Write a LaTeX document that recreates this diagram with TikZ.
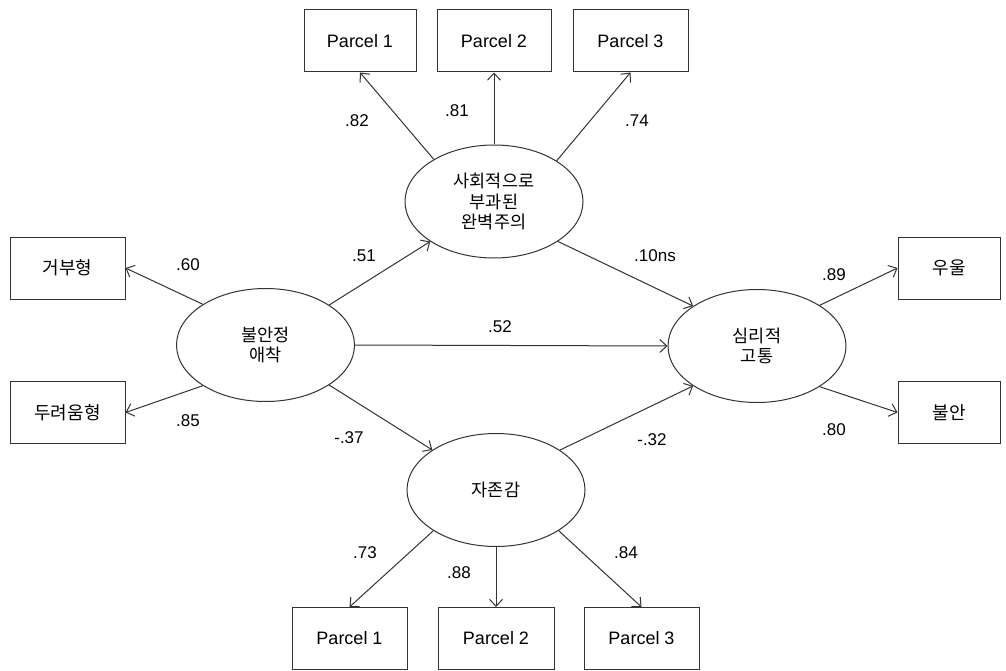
\documentclass[tikz,border=0pt]{standalone}
\usepackage{fontspec}
\setmainfont{Liberation Sans}
\newfontfamily\kr{Noto Sans CJK KR}
\usetikzlibrary{shapes.geometric,arrows.meta}
\begin{document}
\begin{tikzpicture}[x=1pt,y=-1pt,
  box/.style={draw=black!80, line width=1pt, rectangle, inner sep=0pt, minimum height=62pt, font=\fontsize{18}{20}\selectfont},
  lat/.style={draw=black!80, line width=1pt, ellipse, minimum width=178pt, minimum height=113pt, inner sep=0pt, align=center, font=\kr\fontsize{17.5}{20.5}\selectfont},
  arr/.style={draw=black!80, line width=1pt, -{Straight Barb[length=7pt,width=13pt]}},
  coef/.style={font=\fontsize{17}{20}\selectfont, inner sep=0pt}]
\fill[white] (0,0) rectangle (1006,671);
\useasboundingbox (0,0) rectangle (1006,671);
% observed boxes
\node[box, minimum width=112pt] (tp1) at (360,41) {Parcel 1};
\node[box, minimum width=114pt] (tp2) at (494,41) {Parcel 2};
\node[box, minimum width=115pt] (tp3) at (630.5,41) {Parcel 3};
\node[box, minimum width=115pt] (bp1) at (349.5,638.5) {Parcel 1};
\node[box, minimum width=116pt] (bp2) at (496,638.5) {Parcel 2};
\node[box, minimum width=115pt] (bp3) at (641.5,638.5) {Parcel 3};
\node[box, minimum width=115pt] (l1) at (67.5,268) {\kr 거부형};
\node[box, minimum width=115pt] (l2) at (67.5,412.5) {\kr 두려움형};
\node[box, minimum width=102pt] (r1) at (949,268) {\kr 우울};
\node[box, minimum width=102pt] (r2) at (949,412.5) {\kr 불안};
% latent variables
\node[lat] (e1) at (494,201.5) {사회적으로\\부과된\\완벽주의};
\node[lat] (eL) at (265.5,345) {불안정\\애착};
\node[lat] (eR) at (757,346) {심리적\\고통};
\node[lat] (e3) at (496,490) {자존감};
% arrows
\draw[arr] (e1.145) -- (tp1.south);
\draw[arr] (e1.north) -- (tp2.south);
\draw[arr] (e1.33) -- (tp3.south);
\draw[arr] (e3.213) -- (bp1.north);
\draw[arr] (e3.south) -- (bp2.north);
\draw[arr] (e3.327) -- (bp3.north);
\draw[arr] (eL.147) -- (l1.east);
\draw[arr] (eL.213) -- (l2.east);
\draw[arr] (eR.33) -- (r1.west);
\draw[arr] (eR.-33) -- (r2.west);
\draw[arr] (eL) -- (e1);
\draw[arr] (eL) -- (e3);
\draw[arr] (eL.east) -- (eR.west);
\draw[arr] (e1.-32) -- (eR.148);
\draw[arr] (e3.32) -- (eR.212);
% coefficients
\node[coef] (c1) at (357,121) {.82};
\node[coef] (c2) at (457,111) {.81};
\node[coef] (c3) at (637,121) {.74};
\node[coef] (c4) at (364,256) {.51};
\node[coef] (c5) at (655,256) {.10ns};
\node[coef] (c6) at (188,265) {.60};
\node[coef] (c7) at (188,421) {.85};
\node[coef] (c8) at (349,438) {-.37};
\node[coef] (c9) at (500,327) {.52};
\node[coef] (c10) at (834,275) {.89};
\node[coef] (c11) at (834,430) {.80};
\node[coef] (c12) at (652,440) {-.32};
\node[coef] (c13) at (365,553) {.73};
\node[coef] (c14) at (459,573) {.88};
\node[coef] (c15) at (626,553) {.84};
\end{tikzpicture}
\end{document}
